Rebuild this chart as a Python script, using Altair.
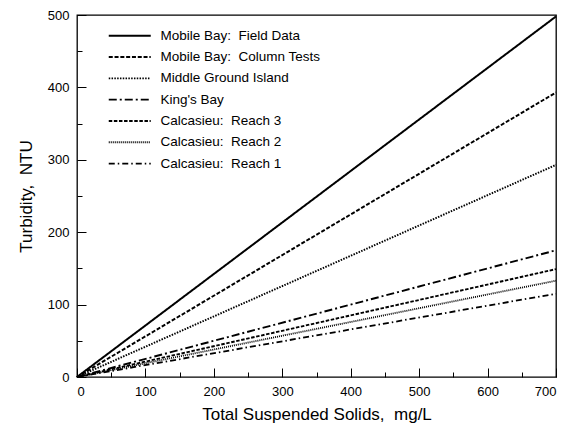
import altair as alt
import pandas as pd

series = [
    "Mobile Bay:\u00a0 Field Data",
    "Mobile Bay:\u00a0 Column Tests",
    "Middle Ground Island",
    "King's Bay",
    "Calcasieu:\u00a0 Reach 3",
    "Calcasieu:\u00a0 Reach 2",
    "Calcasieu:\u00a0 Reach 1",
]
x_start = [0, 0, 0, 0, 0, 0, 0]
y_start = [0, 0, 0, 0, 0, 0, 0]
x_end = [700, 700, 700, 700, 700, 700, 700]
y_end = [498, 393, 293, 175, 149, 133, 115]

dashes = [[1, 0], [4, 1.8], [1.5, 1.3], [8, 3, 2, 3], [3.5, 1.6], [1, 1], [6, 3, 1.5, 3]]
widths = [2.0, 1.8, 1.6, 2.0, 1.2, 1.1, 1.2]

rows = []
for i, s in enumerate(series):
    rows.append({"series": s, "order": 0, "tss": x_start[i], "ntu": y_start[i]})
    rows.append({"series": s, "order": 1, "tss": x_end[i], "ntu": y_end[i]})
df = pd.DataFrame(rows)

x_ticks = [0, 50, 100, 150, 200, 250, 300, 350, 400, 450, 500, 550, 600, 650, 700]
x_labels = [0, 100, 200, 300, 400, 500, 600, 700]
y_ticks = [0, 50, 100, 150, 200, 250, 300, 350, 400, 450, 500]
y_labels = [0, 100, 200, 300, 400, 500]

FONT = "Liberation Sans"
W, H = 479, 362

tick_cond = {"condition": {"test": "datum.value % 100 === 0", "value": 9}, "value": 5}

xscale = alt.Scale(domain=[0, 700], nice=False)
yscale = alt.Scale(domain=[0, 500], nice=False)

legend_args = dict(title=None, orient="none", legendX=30, legendY=14,
                   symbolType="M-1,0H7.4", symbolSize=100,
                   symbolStrokeColor="black", labelOffset=40,
                   rowPadding=6.3, labelFontSize=13.5, labelFont=FONT,
                   labelColor="black", padding=0, labelLimit=300)

lines = alt.Chart(df).mark_line(color="black", strokeCap="butt").encode(
    x=alt.X("tss:Q", scale=xscale,
            axis=alt.Axis(title="Total Suspended Solids,\u00a0 mg/L", values=x_labels, format="d",
                          ticks=False, domain=False, grid=False, labelPadding=8,
                          labelFontSize=13, labelFont=FONT, titleFont=FONT, titleFontSize=17,
                          titleFontWeight="normal", titlePadding=8, labelColor="black",
                          titleColor="black")),
    y=alt.Y("ntu:Q", scale=yscale,
            axis=alt.Axis(title="Turbidity,\u00a0 NTU", values=y_labels, format="d",
                          ticks=False, domain=False, grid=False, labelPadding=8,
                          labelFontSize=13, labelFont=FONT, titleFont=FONT, titleFontSize=17,
                          titleFontWeight="normal", titlePadding=12, labelColor="black",
                          titleColor="black")),
    detail="series:N",
    order="order:Q",
    strokeDash=alt.StrokeDash("series:N", scale=alt.Scale(domain=series, range=dashes),
                              legend=alt.Legend(**legend_args)),
    strokeWidth=alt.StrokeWidth("series:N", scale=alt.Scale(domain=series, range=widths),
                                legend=alt.Legend(**legend_args)),
)

ticks_layer = alt.Chart(df).mark_line(strokeOpacity=0).encode(
    x=alt.X("tss:Q", scale=xscale,
            axis=alt.Axis(orient="top", offset=-H, values=x_ticks, labels=False, title=None,
                          domain=False, grid=False, tickSize=tick_cond, tickColor="black",
                          tickWidth=1)),
    y=alt.Y("ntu:Q", scale=yscale,
            axis=alt.Axis(orient="right", offset=-W, values=y_ticks, labels=False, title=None,
                          domain=False, grid=False, tickSize=tick_cond, tickColor="black",
                          tickWidth=1)),
    detail="series:N",
)

chart = alt.layer(lines, ticks_layer).resolve_axis(x="independent", y="independent").properties(
    width=W, height=H,
    autosize=alt.AutoSizeParams(type="none"),
    padding={"left": 69, "top": 7, "right": 2, "bottom": 52},
    background="white",
).configure_view(stroke="black", strokeWidth=1.3)

chart.save("out.html", embed_options={"renderer": "svg", "actions": False})
